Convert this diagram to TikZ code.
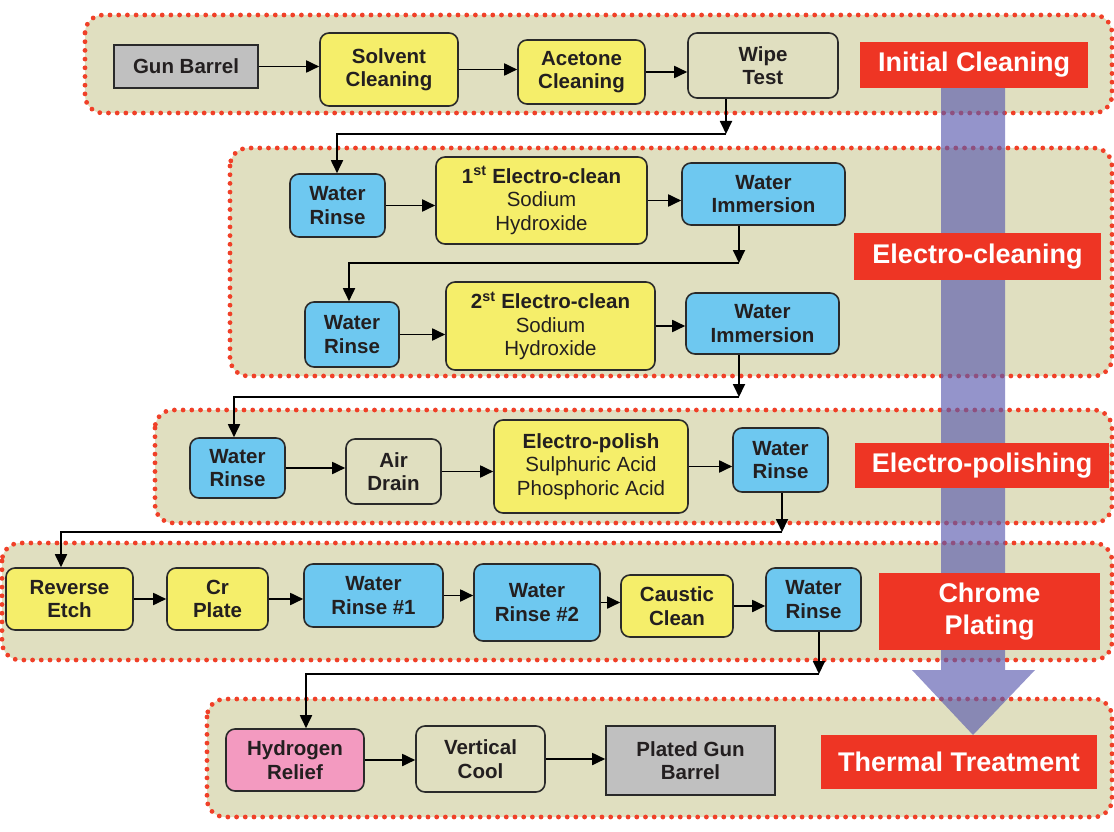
\documentclass[tikz,border=0pt]{standalone}
\usepackage{fontspec}
\setmainfont{Liberation Sans}
\usetikzlibrary{arrows.meta}
\definecolor{panelbg}{HTML}{E0DFC0}
\definecolor{dotred}{HTML}{F04028}
\definecolor{stagered}{HTML}{EE3524}
\definecolor{bathyellow}{HTML}{F5EE6A}
\definecolor{rinseblue}{HTML}{6EC8F0}
\definecolor{barrelgray}{HTML}{C0C0C0}
\definecolor{heatpink}{HTML}{F39AC0}
\definecolor{boxline}{HTML}{2A2A2A}
\definecolor{boxtext}{HTML}{231F20}
\definecolor{flowblue}{RGB}{90,90,175}
\begin{document}
\begin{tikzpicture}[x=1pt,y=-1pt,line width=1.8pt,>={Triangle[length=13pt,width=12pt]},
    panel/.style={fill=panelbg,draw=dotred,line width=4.8pt,line cap=round,
        dash pattern=on 0pt off 8.7pt,rounded corners=18pt},
    procbox/.style={draw=boxline,line width=1.6pt,rounded corners=9pt,align=center,
        inner sep=0pt,text=boxtext,font=\fontsize{20.5}{23.5}\selectfont\bfseries},
    sharpbox/.style={procbox,rounded corners=0pt},
    stage/.style={fill=stagered,text=white,inner sep=0pt,align=center,
        font=\fontsize{27}{32}\selectfont\bfseries}]
    \useasboundingbox (0,0) rectangle (1114,832);
    % dotted stage panels
    \draw[panel] (85,15) rectangle (1112,113);
    \draw[panel] (230,148) rectangle (1112,376);
    \draw[panel] (155,410) rectangle (1112,523);
    \draw[panel] (2,543) rectangle (1112,660);
    \draw[panel] (207,699) rectangle (1112,817);
    % big flow arrow
    \fill[flowblue,opacity=0.65] (941,70) -- (1005,70) -- (1005,670) -- (1035,670)
        -- (973,735) -- (912,670) -- (941,670) -- cycle;
    % initial cleaning
    \node[sharpbox,fill=barrelgray,minimum width=144,minimum height=43] (gun) at (186,66.5) {Gun Barrel};
    \node[procbox,fill=bathyellow,minimum width=138,minimum height=73] (solvent) at (389,69.5) {Solvent\\Cleaning};
    \node[procbox,fill=bathyellow,minimum width=127,minimum height=64] (acetone) at (581.5,72) {Acetone\\Cleaning};
    \node[procbox,fill=panelbg,minimum width=150,minimum height=65] (wipe) at (763,65.5) {Wipe\\Test};
    % electro-cleaning
    \node[procbox,fill=rinseblue,minimum width=95,minimum height=63] (rinseA) at (337.5,205.5) {Water\\Rinse};
    \node[procbox,fill=bathyellow,minimum width=211,minimum height=87] (cleanA) at (541.5,200.5)
        {1\textsuperscript{st} Electro-clean\\{\mdseries Sodium}\\{\mdseries Hydroxide}};
    \node[procbox,fill=rinseblue,minimum width=163,minimum height=62] (immA) at (763.5,194) {Water\\Immersion};
    \node[procbox,fill=rinseblue,minimum width=94,minimum height=65] (rinseB) at (352,334.5) {Water\\Rinse};
    \node[procbox,fill=bathyellow,minimum width=209,minimum height=88] (cleanB) at (550.5,326)
        {2\textsuperscript{st} Electro-clean\\{\mdseries Sodium}\\{\mdseries Hydroxide}};
    \node[procbox,fill=rinseblue,minimum width=153,minimum height=61] (immB) at (762.5,323.5) {Water\\Immersion};
    % electro-polishing
    \node[procbox,fill=rinseblue,minimum width=95,minimum height=60] (rinseC) at (237.5,468) {Water\\Rinse};
    \node[procbox,fill=panelbg,minimum width=95,minimum height=65] (drain) at (393.5,471.5) {Air\\Drain};
    \node[procbox,fill=bathyellow,minimum width=194,minimum height=93] (polish) at (591,466.5)
        {Electro-polish\\{\mdseries Sulphuric Acid}\\{\mdseries Phosphoric Acid}};
    \node[procbox,fill=rinseblue,minimum width=95,minimum height=64] (rinseD) at (780.5,460) {Water\\Rinse};
    % chrome plating
    \node[procbox,fill=bathyellow,minimum width=127,minimum height=62] (etch) at (69.5,599) {Reverse\\Etch};
    \node[procbox,fill=bathyellow,minimum width=101,minimum height=62] (crplate) at (217.5,599) {Cr\\Plate};
    \node[procbox,fill=rinseblue,minimum width=139,minimum height=63] (rinse1) at (373.5,595.5) {Water\\Rinse \#1};
    \node[procbox,fill=rinseblue,minimum width=126,minimum height=77] (rinse2) at (537,602.5) {Water\\Rinse \#2};
    \node[procbox,fill=bathyellow,minimum width=112,minimum height=62] (caustic) at (677,606) {Caustic\\Clean};
    \node[procbox,fill=rinseblue,minimum width=95,minimum height=63] (rinseE) at (813.5,599.5) {Water\\Rinse};
    % thermal treatment
    \node[procbox,fill=heatpink,minimum width=138,minimum height=62] (hydro) at (295,760) {Hydrogen\\Relief};
    \node[procbox,fill=panelbg,minimum width=129,minimum height=66] (vcool) at (480.5,759) {Vertical\\Cool};
    \node[sharpbox,fill=barrelgray,minimum width=169,minimum height=69] (plated) at (690.5,760.5) {Plated Gun\\Barrel};
    % stage labels
    \node[stage,minimum width=228,minimum height=46] (stageA) at (974,65) {Initial Cleaning};
    \node[stage,minimum width=247,minimum height=47] (stageB) at (977.5,256.5) {Electro-cleaning};
    \node[stage,minimum width=254,minimum height=45] (stageC) at (982,465.5) {Electro-polishing};
    \node[stage,minimum width=221,minimum height=77] (stageD) at (989.5,611.5) {Chrome\\Plating};
    \node[stage,minimum width=276,minimum height=54] (stageE) at (959,762) {Thermal Treatment};
    % arrows inside a stage
    \foreach \a/\b in {gun/solvent,solvent/acetone,acetone/wipe,rinseA/cleanA,cleanA/immA,
        rinseB/cleanB,cleanB/immB,rinseC/drain,drain/polish,polish/rinseD,etch/crplate,
        crplate/rinse1,rinse1/rinse2,rinse2/caustic,caustic/rinseE,hydro/vcool,vcool/plated}
    \draw[->] (\a) -- (\a -| \b.west);
    % arrows from one stage to the next
    \coordinate (j1) at (726,134); \coordinate (k1) at (337,134);
    \coordinate (j2) at (739,263); \coordinate (k2) at (349,263);
    \coordinate (j3) at (739,397); \coordinate (k3) at (234,397);
    \coordinate (j4) at (782,532); \coordinate (k4) at (61,532);
    \coordinate (j5) at (819,674); \coordinate (k5) at (306,674);
    \foreach \a/\b/\n in {wipe/rinseA/1,immA/rinseB/2,immB/rinseC/3,rinseD/etch/4,rinseE/hydro/5}{
        \draw[->] (\a.south -| j\n) -- (j\n);
        \draw[->] (j\n) -- (k\n) -- (k\n |- \b.north);
    }
\end{tikzpicture}
\end{document}
